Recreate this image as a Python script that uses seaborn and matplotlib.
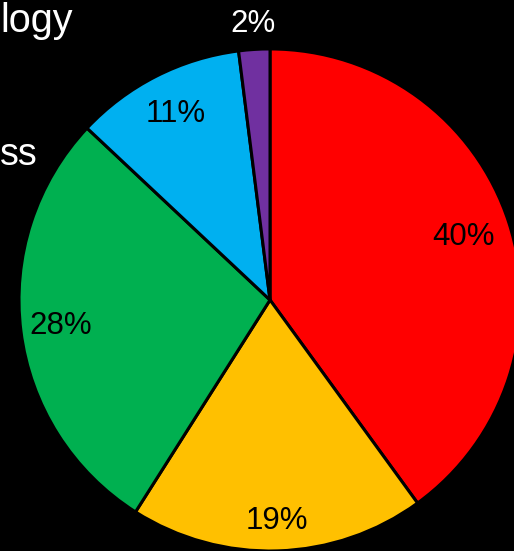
import numpy as np
import matplotlib
matplotlib.use("Agg")
import matplotlib.pyplot as plt
import seaborn as sns

# Share of responses by category (clockwise from 12 o'clock)
shares = [40, 19, 28, 11, 2]
colors = ["#FF0000", "#FFC000", "#00B050", "#00B0F0", "#7030A0"]

# legend fragments visible at the left margin
legend_bits = ["logy", "ss"]

# radial placement of each percentage label (fraction of radius)
label_radius = [0.81, 0.88, 0.84, 0.83, 1.10]

sns.set_style("dark")
plt.rcParams["font.family"] = ["Liberation Sans", "DejaVu Sans"]

fig = plt.figure(figsize=(5.14, 5.51), dpi=100, facecolor="black")
ax = fig.add_axes([0, 0, 1, 1])
ax.set_facecolor("black")

wedges, _ = ax.pie(
    shares,
    colors=colors,
    startangle=90,
    counterclock=False,
    radius=1.0,
    wedgeprops=dict(edgecolor="black", linewidth=2.2),
)

for w, val, rr in zip(wedges, shares, label_radius):
    mid = np.deg2rad((w.theta1 + w.theta2) / 2)
    color = "white" if rr > 1 else "black"
    ax.text(rr * np.cos(mid), rr * np.sin(mid), f"{val}%",
            ha="center", va="center", fontsize=22.5, color=color)

# legend text along the left edge
ax.text(-1.0757, 1.068, legend_bits[0], ha="left", va="baseline",
        fontsize=28.5, color="white")
ax.text(-1.0757, 0.538, legend_bits[1], ha="left", va="baseline",
        fontsize=27, color="white")

ax.set_aspect("auto")
ax.set_xlim(-1.0757, 0.972)
ax.set_ylim(-1.0, 1.195)
ax.axis("off")

fig.savefig("out.png", dpi=100, facecolor="black")
